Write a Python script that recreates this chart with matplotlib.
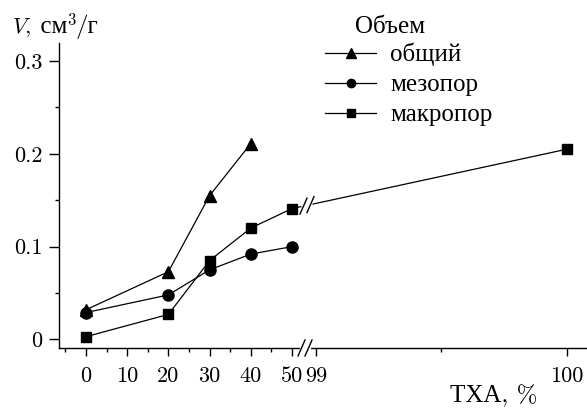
import numpy as np
import matplotlib
matplotlib.use('Agg')
import matplotlib.pyplot as plt
from matplotlib.lines import Line2D
from matplotlib.transforms import IdentityTransform

plt.rcParams['font.family'] = ['cmr10', 'Liberation Serif']
plt.rcParams['mathtext.fontset'] = 'cm'
plt.rcParams['axes.unicode_minus'] = False

# data
x_total = [0, 20, 30, 40]
v_total = [0.032, 0.073, 0.155, 0.211]
x_meso = [0, 20, 30, 40, 50]
v_meso = [0.029, 0.048, 0.075, 0.092, 0.100]
x_macro = [0, 20, 30, 40, 50, 100]
v_macro = [0.003, 0.027, 0.085, 0.120, 0.141, 0.205]

series_labels = ['общий', 'мезопор', 'макропор']
legend_title = 'Объем'
x_major = [0, 10, 20, 30, 40, 50, 99, 100]
x_minor = [-5, 5, 15, 25, 35, 45, 99.5]
y_major = [0, 0.1, 0.2, 0.3]
y_minor = [0.05, 0.15, 0.25]

# broken x axis: 0..50 linear, 50..99 squeezed, 99..100 stretched
GAP = 5.83
STRETCH = 60.9


def fwd(x):
    x = np.asarray(x, dtype=float)
    return np.where(x <= 50, x,
                    np.where(x <= 99, 50 + (x - 50) * GAP / 49,
                             50 + GAP + (x - 99) * STRETCH))


def inv(t):
    t = np.asarray(t, dtype=float)
    return np.where(t <= 50, t,
                    np.where(t <= 50 + GAP, 50 + (t - 50) * 49 / GAP,
                             99 + (t - 50 - GAP) / STRETCH))


CYR = 18

fig = plt.figure(figsize=(5.87, 4.09), dpi=100)
ax = fig.add_axes([59 / 587, 61 / 409, 528 / 587, 305 / 409])
ax.set_xscale('function', functions=(fwd, inv))
ax.set_xlim(inv(-6.55), inv(121.6))
ax.set_ylim(-0.0092, 0.3194)

lw = 0.9
ax.plot(x_total, v_total, '-^', color='black', lw=lw, ms=9, label=series_labels[0])
ax.plot(x_meso, v_meso, '-o', color='black', lw=lw, ms=8, label=series_labels[1])
ax.plot(x_macro, v_macro, '-s', color='black', lw=lw, ms=7, label=series_labels[2])

for s in ['top', 'right']:
    ax.spines[s].set_visible(False)
for s in ['left', 'bottom']:
    ax.spines[s].set_linewidth(1.0)

ax.set_xticks(x_major)
ax.set_xticklabels([str(v) for v in x_major])
ax.set_xticks(x_minor, minor=True)
ax.set_yticks(y_major)
ax.set_yticklabels(['0', '0.1', '0.2', '0.3'])
ax.set_yticks(y_minor, minor=True)
ax.tick_params(axis='both', which='major', direction='out', width=1.0, labelsize=16)
ax.tick_params(axis='x', which='major', length=6, pad=7)
ax.tick_params(axis='y', which='major', length=7, pad=5)
ax.tick_params(axis='both', which='minor', direction='out', width=1.0, length=3)

# break marks
fig.canvas.draw()
renderer = fig.canvas.get_renderer()
to_px = ax.transData.transform
x50 = to_px((50, 0))[0]
x99 = to_px((99, 0))[0]
xc = (x50 + x99) / 2 + 1
y_axis = to_px((0, ax.get_ylim()[0]))[1]


def draw_break(xc, yc, slope=0.0):
    d = 3.5
    # white gap
    fig.add_artist(Line2D([xc - d, xc + d], [yc - d * slope, yc + d * slope], color='white',
                          lw=3, transform=IdentityTransform(), zorder=5))
    for off in (-d, d):
        fig.add_artist(Line2D([xc + off - 3.5, xc + off + 3.5], [yc + off * slope - 8, yc + off * slope + 8],
                              color='black', lw=1.0, transform=IdentityTransform(), zorder=6))


draw_break(xc, y_axis)
p1 = to_px((x_macro[4], v_macro[4]))
p2 = to_px((x_macro[5], v_macro[5]))
slope = (p2[1] - p1[1]) / (p2[0] - p1[0])
draw_break(xc + 2, p1[1] + slope * (xc + 2 - p1[0]), slope)

# legend
ax.legend(frameon=False, loc='upper left', bbox_to_anchor=(325 / 587, 1 - 43 / 409),
          bbox_transform=fig.transFigure, fontsize=CYR, handlelength=2.05, markerscale=0.75,
          handletextpad=0.55, labelspacing=0.3, borderpad=0, borderaxespad=0)
fig.text(355 / 587, 1 - 33 / 409, legend_title, fontsize=CYR, ha='left', va='baseline')

# y axis label built from pieces (math V, cyrillic text, superscript)
parts = [(r'$V$,', 16, 0), (' см', CYR, 0), ('3', 12, 8), ('/г', CYR, 0)]
xpos = 12
for txt, size, rise in parts:
    t = fig.text(xpos / 587, (409 - 33 + rise) / 409, txt, fontsize=size, ha='left', va='baseline')
    xpos += t.get_window_extent(renderer).width

fig.text(537 / 587, 1 - 402 / 409, 'ТХА, %', fontsize=CYR, ha='right', va='baseline')

fig.savefig('out.png', dpi=100)
